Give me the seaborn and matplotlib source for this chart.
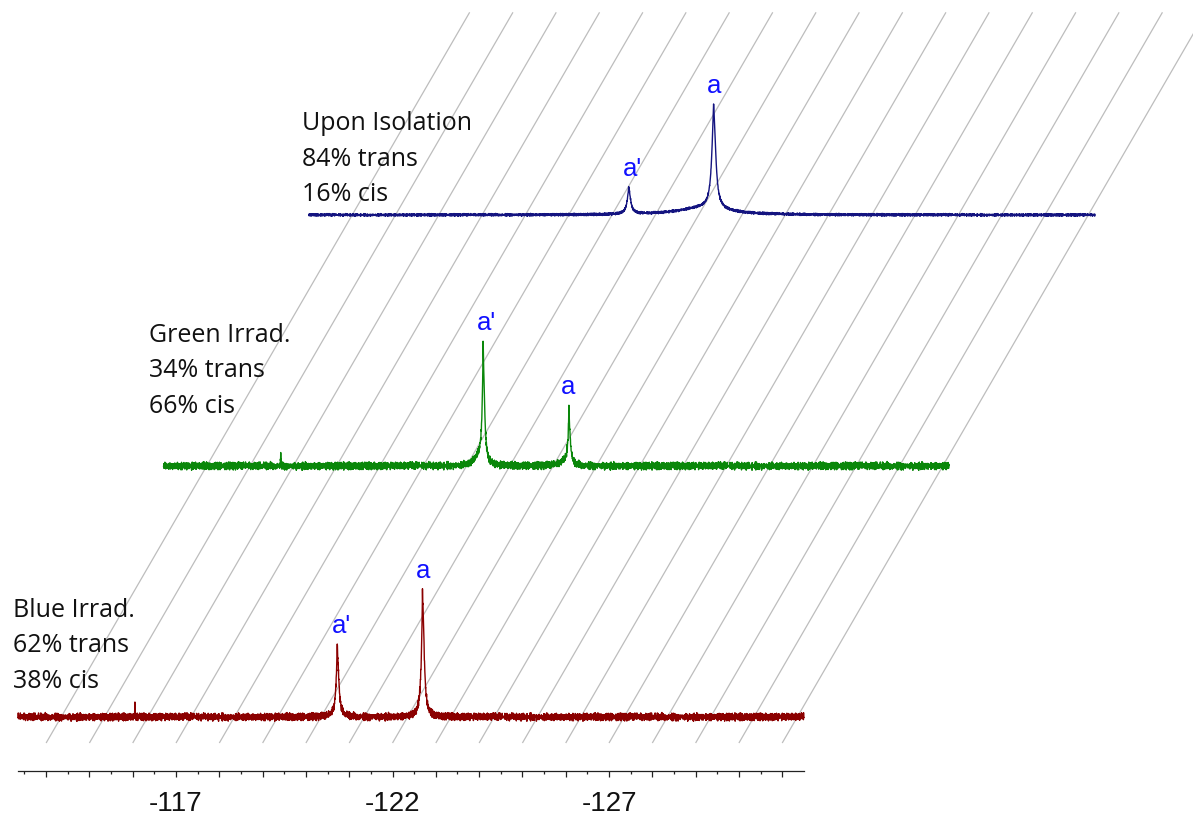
import numpy as np
import pandas as pd
import matplotlib
matplotlib.use("Agg")
import matplotlib.pyplot as plt
from matplotlib.ticker import FixedLocator, FuncFormatter, NullFormatter
import seaborn as sns

# ---------------------------------------------------------------------------
# 19F spectra, stacked with a skewed (pseudo-3D) offset
# ---------------------------------------------------------------------------
PPM_START = -113.35
PPM_END = -131.5
N_POINTS = 5000

SAMPLES = ["Blue Irrad.", "Green Irrad.", "Upon Isolation"]
TRANS_PCT = [62, 34, 84]
CIS_PCT = [38, 66, 16]
COLORS = ["#8b0000", "#0a870a", "#141480"]

# peak tables: centre (ppm), height (a.u.), full width at half height (ppm)
BLUE_CENTRES = [-120.73, -120.722, -122.70, -122.692, -116.05]
BLUE_HEIGHTS = [23.0, 7.5, 42.0, 9.5, 5.0]
BLUE_WIDTHS = [0.08, 0.012, 0.08, 0.012, 0.010]

GREEN_CENTRES = [-120.74, -120.733, -120.62, -122.72, -122.713, -122.60, -116.06]
GREEN_HEIGHTS = [36.0, 14.0, 3.0, 15.5, 8.0, 1.5, 5.0]
GREEN_WIDTHS = [0.07, 0.012, 0.25, 0.07, 0.012, 0.25, 0.010]

ISO_CENTRES = [-120.74, -120.735, -122.70, -122.695, -122.45]
ISO_HEIGHTS = [9.0, 2.0, 37.0, 4.8, 2.8]
ISO_WIDTHS = [0.10, 0.015, 0.11, 0.015, 1.4]

PEAK_TABLES = [
    (BLUE_CENTRES, BLUE_HEIGHTS, BLUE_WIDTHS),
    (GREEN_CENTRES, GREEN_HEIGHTS, GREEN_WIDTHS),
    (ISO_CENTRES, ISO_HEIGHTS, ISO_WIDTHS),
]
NOISE_LEVEL = [1.8, 1.8, 0.6]

# baseline noise pattern
NOISE_A = [0.3, -0.8, 0.9, -0.2, 0.5, -1.0, 0.1, 0.7, -0.5, 0.95, -0.3, -0.9,
           0.4, 0.0, -0.6, 0.8, -0.1, 0.6, -0.95, 0.2, 0.85, -0.4, -0.7, 0.5,
           0.15, -0.85, 1.0, -0.25, 0.35, -0.55, 0.75, -0.05, -0.75, 0.45,
           0.9, -0.45, 0.05]
NOISE_B = [-0.6, 0.4, 0.9, -0.3, -0.95, 0.2, 0.65, -0.15, 0.8, -0.7, 0.05,
           0.5, -0.85, 0.35, -0.4, 1.0, -0.2, -0.65, 0.75, 0.1, -0.9, 0.45,
           -0.05, 0.6, -0.5, 0.95, -0.35, 0.25, -0.8, 0.55, 0.0, -0.6, 0.85,
           -0.1, 0.3, -0.75, 0.7, -0.45, 0.15, 0.9, -0.25, -0.55, 0.4, -0.9,
           0.65, 0.2, -0.3, 0.8, -0.7, 0.1, 0.5, -0.15, -0.85]

# signal assignments
PEAK_NAMES = ["a'", "a"]
PEAK_SHIFTS = [-120.73, -122.70]

# ppm axis
TICK_LABELS = [-117, -122, -127]
MAJOR_TICKS = list(range(-114, -132, -1))
MINOR_TICKS = [v + 0.5 for v in range(-114, -132, -1)]
GRID_PPM = list(range(-114, -132, -1))

# ---------------------------------------------------------------------------
# layout of the stack
STACK_STEP = 100.0       # vertical offset between traces (a.u.)
STACK_SHIFT = 3.36       # horizontal offset between traces (ppm)
SHEAR = STACK_SHIFT / STACK_STEP
X_LIM = (-112.935, -140.487)
Y_LIM = (-39.84, 285.66)
AXIS_Y = -21.4
GRID_Y = (-10.36, 280.76)
TEXT_X = [-113.24, -116.38, -119.90]
TEXT_Y = [40.0, 149.5, 233.9]
TEXT_STEP = 14.2
LABEL_GAP = 4.4


def lorentz(x, c, h, w):
    hw = w / 2.0
    return h * hw ** 2 / ((x - c) ** 2 + hw ** 2)


ppm = np.linspace(PPM_START, PPM_END, N_POINTS)
frames = []
traces = []
for k, (name, (cs, hs, ws)) in enumerate(zip(SAMPLES, PEAK_TABLES)):
    y = np.zeros_like(ppm)
    for c, h, w in zip(cs, hs, ws):
        y += lorentz(ppm, c, h, w)
    idx = np.arange(N_POINTS)
    na = np.take(NOISE_A, (idx + 11 * k) % len(NOISE_A))
    nb = np.take(NOISE_B, (idx + 23 * k) % len(NOISE_B))
    y += 0.5 * (na + nb) * NOISE_LEVEL[k]
    traces.append(y)
    frames.append(pd.DataFrame({
        "x": ppm - STACK_SHIFT * k,
        "y": y + STACK_STEP * k,
        "sample": name,
    }))
df = pd.concat(frames, ignore_index=True)

sns.set_style("white")
fig = plt.figure(figsize=(11.93, 8.17), dpi=100)
ax = fig.add_axes([0, 0, 1, 1])
ax.set_xlim(*X_LIM)
ax.set_ylim(*Y_LIM)

# skewed grid lines, one per ppm
for p in GRID_PPM:
    ax.plot([p, p - SHEAR * (GRID_Y[1] - GRID_Y[0])], [GRID_Y[0], GRID_Y[1]],
            color="#bdbdbd", lw=0.9, zorder=0, solid_capstyle="butt")

sns.lineplot(data=df, x="x", y="y", hue="sample", hue_order=SAMPLES,
             palette=dict(zip(SAMPLES, COLORS)), estimator=None, sort=False,
             linewidth=1.0, legend=False, ax=ax, zorder=2)

# sample descriptions
for k, name in enumerate(SAMPLES):
    lines = [name, f"{TRANS_PCT[k]}% trans", f"{CIS_PCT[k]}% cis"]
    for j, txt in enumerate(lines):
        ax.text(TEXT_X[k], TEXT_Y[k] - j * TEXT_STEP, txt, ha="left",
                va="baseline", fontsize=18, family="Open Sans", color="#111111")

# peak assignments
for k in range(len(SAMPLES)):
    for lab, shift in zip(PEAK_NAMES, PEAK_SHIFTS):
        win = np.abs(ppm - shift) < 0.06
        top = traces[k][win].max()
        dx = 2.5 if "'" in lab else 0.0
        ax.annotate(lab, (shift - STACK_SHIFT * k, top + STACK_STEP * k + LABEL_GAP),
                    xytext=(dx, 0), textcoords="offset points",
                    ha="center", va="baseline", fontsize=18.5,
                    family="Liberation Sans", color="#1010ff")

# ppm axis
for s in ("left", "right", "top"):
    ax.spines[s].set_visible(False)
ax.spines["bottom"].set_position(("data", AXIS_Y))
ax.spines["bottom"].set_bounds(PPM_END, PPM_START)
ax.spines["bottom"].set_color("#222222")
ax.spines["bottom"].set_linewidth(0.9)
ax.xaxis.set_major_locator(FixedLocator(MAJOR_TICKS))
ax.xaxis.set_minor_locator(FixedLocator(MINOR_TICKS))
ax.xaxis.set_major_formatter(FuncFormatter(
    lambda v, pos: f"{v:.0f}" if int(round(v)) in TICK_LABELS else ""))
ax.xaxis.set_minor_formatter(NullFormatter())
ax.tick_params(axis="x", which="major", direction="out", length=4.3, width=0.9,
               color="#222222", pad=10, labelsize=20, labelcolor="#111111",
               labelfontfamily="Liberation Sans", bottom=True)
ax.tick_params(axis="x", which="minor", direction="out", length=2.0, width=0.9,
               color="#222222", bottom=True)
ax.yaxis.set_visible(False)
ax.set_xlabel("")
ax.patch.set_alpha(0)

fig.savefig("out.png", dpi=100, facecolor="white")
